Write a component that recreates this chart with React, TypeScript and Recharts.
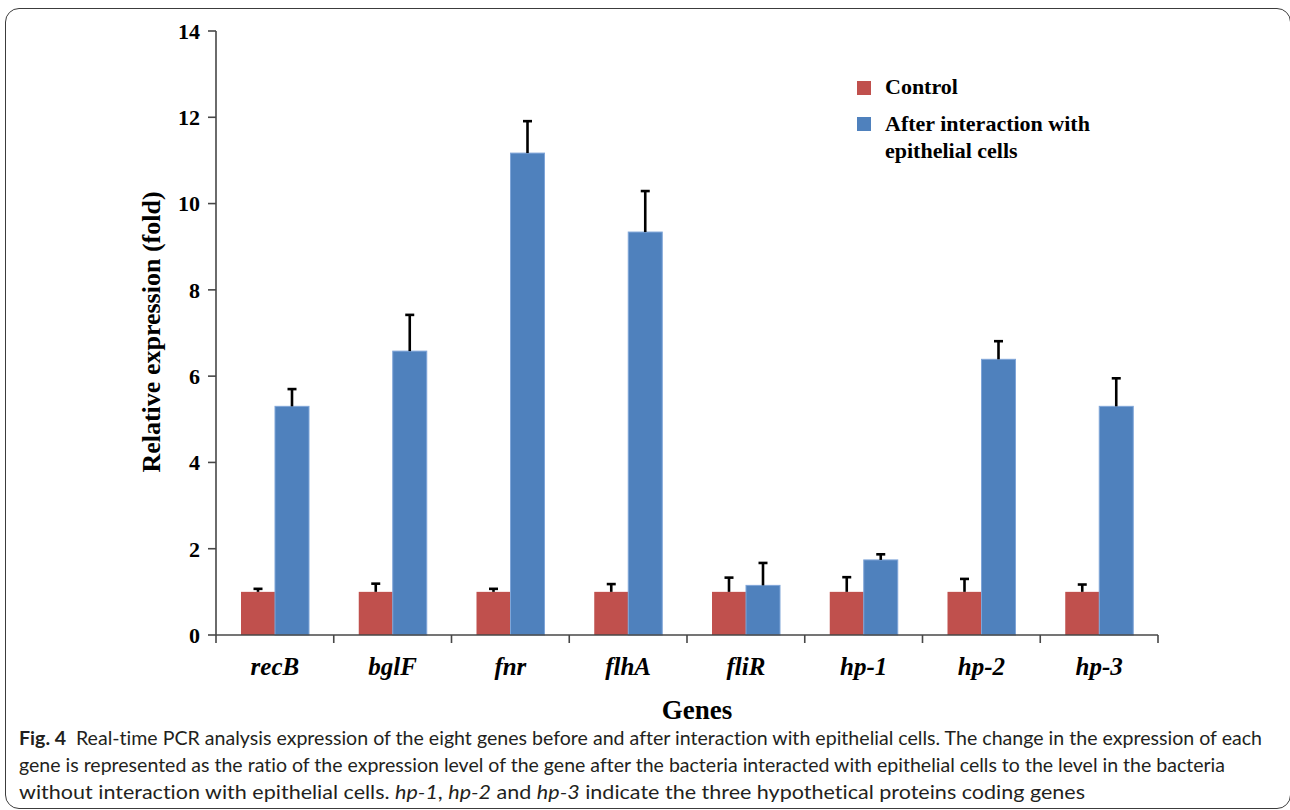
import React from 'react';
import { BarChart, Bar, XAxis, YAxis, Legend } from 'recharts';

const GENES = ['recB', 'bglF', 'fnr', 'flhA', 'fliR', 'hp-1', 'hp-2', 'hp-3'];
const CONTROL = [1, 1, 1, 1, 1, 1, 1, 1];
const CONTROL_ERR = [0.07, 0.19, 0.07, 0.18, 0.33, 0.34, 0.3, 0.17];
const AFTER = [5.3, 6.58, 11.17, 9.34, 1.15, 1.74, 6.39, 5.3];
const AFTER_ERR = [0.4, 0.84, 0.74, 0.95, 0.52, 0.13, 0.42, 0.65];
const Y_TICKS = [0, 2, 4, 6, 8, 10, 12, 14];

const data = GENES.map((g, i) => ({
  gene: g,
  control: CONTROL[i],
  controlErr: CONTROL_ERR[i],
  after: AFTER[i],
  afterErr: AFTER_ERR[i],
}));

const RED = '#C0504D';
const BLUE = '#4F81BD';
const AXIS = '#474747';
const SERIF = '"Liberation Serif", "Times New Roman", serif';

const makeShape = (valKey: string, errKey: string, edge?: string) => (props: any) => {
  const { x, y, width, height, payload, fill } = props;
  const v = payload[valKey];
  const e = payload[errKey];
  const ppu = v ? height / v : 0;
  const top = y - e * ppu;
  const cx = x + width / 2;
  return (
    <g>
      <rect x={x} y={y} width={width} height={height} fill={fill} stroke={edge || 'none'} strokeWidth={edge ? 1 : 0} />
      <line x1={cx} x2={cx} y1={y} y2={top} stroke="#000" strokeWidth={2.6} />
      <line x1={cx - 4.5} x2={cx + 4.5} y1={top} y2={top} stroke="#000" strokeWidth={2.6} />
    </g>
  );
};

const GeneTick = (props: any) => {
  const { x, y, payload, index } = props;
  const half = payload && payload.offset ? payload.offset : 0;
  return (
    <g>
      <line x1={x - half} x2={x - half} y1={y} y2={y + 8} stroke={AXIS} strokeWidth={1.6} />
      {index === GENES.length - 1 && (
        <line x1={x + half} x2={x + half} y1={y} y2={y + 8} stroke={AXIS} strokeWidth={1.6} />
      )}
      <text
        x={x}
        y={y + 40}
        textAnchor="middle"
        fontFamily={SERIF}
        fontWeight="bold"
        fontStyle="italic"
        fontSize={25}
        fill="#000"
      >
        {payload.value}
      </text>
    </g>
  );
};

const LegendContent = () => (
  <div style={{ position: 'relative', width: 300, height: 0, fontFamily: SERIF, fontWeight: 'bold', fontSize: 22, color: '#000' }}>
    <div style={{ position: 'absolute', left: 0, top: 3, width: 14, height: 14, background: RED }} />
    <div style={{ position: 'absolute', left: 28, top: -5, lineHeight: '27px', whiteSpace: 'nowrap' }}>Control</div>
    <div style={{ position: 'absolute', left: 0, top: 39, width: 14, height: 14, background: BLUE }} />
    <div style={{ position: 'absolute', left: 28, top: 32, lineHeight: '27px', whiteSpace: 'nowrap' }}>
      After interaction with
      <br />
      epithelial cells
    </div>
  </div>
);

export default function App() {
  return (
    <div style={{ position: 'absolute', left: 0, top: 0, width: 1290, height: 810, background: '#fff', overflow: 'hidden' }}>
      <div
        style={{
          position: 'absolute',
          left: 5,
          top: 8,
          width: 1286,
          height: 801,
          border: '1.5px solid #3c3c3c',
          borderRadius: 14,
          boxSizing: 'border-box',
        }}
      />
      <div style={{ position: 'absolute', left: 0, top: 0 }}>
        <BarChart
          width={1290}
          height={700}
          data={data}
          margin={{ top: 31, right: 132, left: 136, bottom: 0 }}
          barSize={34}
          barGap={0}
        >
          <XAxis
            dataKey="gene"
            height={65}
            interval={0}
            tickLine={false}
            tickSize={0}
            tickMargin={0}
            axisLine={{ stroke: AXIS, strokeWidth: 1.6 }}
            tick={<GeneTick />}
          />
          <YAxis
            width={80}
            domain={[0, 14]}
            ticks={Y_TICKS}
            interval={0}
            tickSize={8}
            tickMargin={8}
            axisLine={{ stroke: AXIS, strokeWidth: 1.6 }}
            tickLine={{ stroke: AXIS, strokeWidth: 1.6 }}
            tick={{ fontFamily: SERIF, fontWeight: 'bold', fontSize: 22, fill: '#000' }}
          />
          <Legend
            content={<LegendContent />}
            wrapperStyle={{ position: 'absolute', left: 857, top: 78, width: 300, height: 0, overflow: 'visible' }}
          />
          <Bar dataKey="control" name="Control" fill={RED} isAnimationActive={false} shape={makeShape('control', 'controlErr')} />
          <Bar
            dataKey="after"
            name="After interaction with epithelial cells"
            fill={BLUE}
            isAnimationActive={false}
            shape={makeShape('after', 'afterErr', '#7FA5D8')}
          />
        </BarChart>
      </div>
      <svg style={{ position: 'absolute', left: 0, top: 0 }} width={1290} height={810}>
        <text
          x={151}
          y={332}
          transform="rotate(-90 151 332)"
          textAnchor="middle"
          dominantBaseline="central"
          fontFamily={SERIF}
          fontWeight="bold"
          fontSize={26}
          fill="#000"
        >
          Relative expression (fold)
        </text>
        <text x={697} y={719} textAnchor="middle" fontFamily={SERIF} fontWeight="bold" fontSize={27} fill="#000">
          Genes
        </text>
        <g fontFamily='Lato, "Open Sans", sans-serif' fontSize={19} fill="#231f20" style={{ fontVariantLigatures: 'none' }}>
          <text x={19} y={745} textLength={1243} lengthAdjust="spacingAndGlyphs">
            <tspan fontWeight="bold">Fig. 4</tspan>
            <tspan>{'\u2002Real-time PCR analysis expression of the eight genes before and after interaction with epithelial cells. The change in the expression of each'}</tspan>
          </text>
          <text x={19} y={772} textLength={1206} lengthAdjust="spacingAndGlyphs">
            gene is represented as the ratio of the expression level of the gene after the bacteria interacted with epithelial cells to the level in the bacteria
          </text>
          <text x={19} y={799} textLength={1066} lengthAdjust="spacingAndGlyphs">
            <tspan>without interaction with epithelial cells. </tspan>
            <tspan fontStyle="italic">hp-1</tspan>
            <tspan>, </tspan>
            <tspan fontStyle="italic">hp-2</tspan>
            <tspan> and </tspan>
            <tspan fontStyle="italic">hp-3</tspan>
            <tspan> indicate the three hypothetical proteins coding genes</tspan>
          </text>
        </g>
      </svg>
    </div>
  );
}
